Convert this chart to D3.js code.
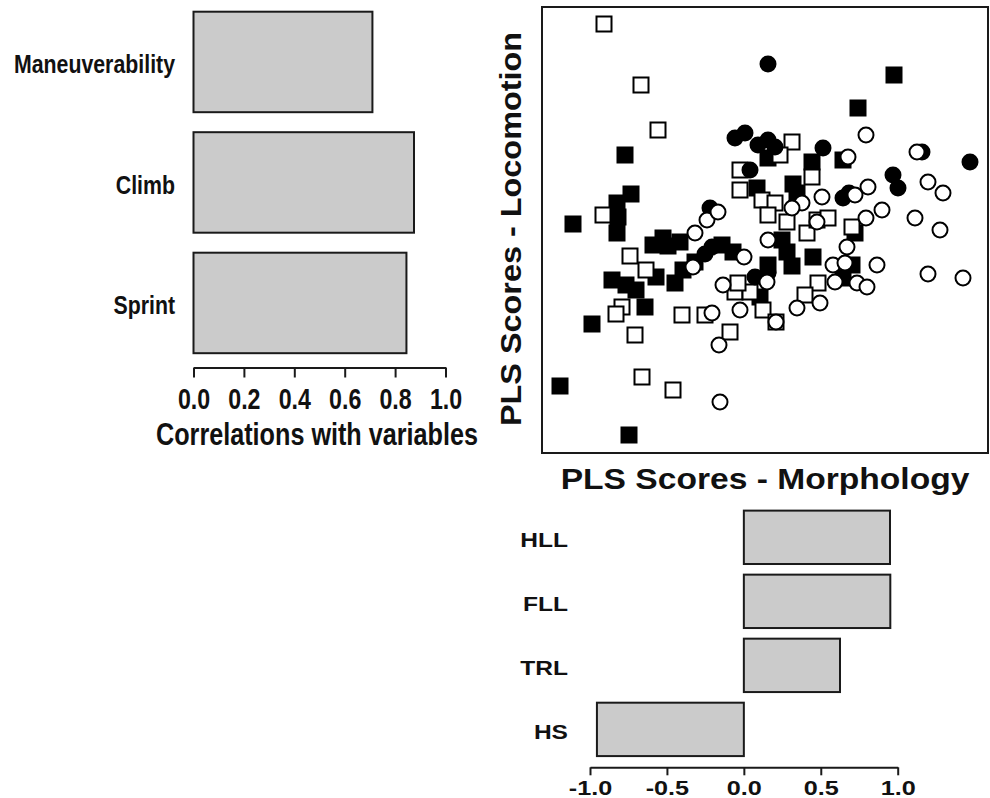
<!DOCTYPE html>
<html><head><meta charset="utf-8">
<script src="https://cdn.jsdelivr.net/npm/d3@7"></script>
<style>
body{margin:0;background:#fff}
svg{display:block}
text{font-family:"Liberation Sans",Arial,Helvetica,sans-serif;font-weight:bold;fill:#111}
</style>
</head><body>
<svg id="c" width="990" height="798"></svg>
<script>
// ---- data ----
const locoVars = ["Maneuverability", "Climb", "Sprint"];
const locoCorr = [0.71, 0.875, 0.845];
const locoTicks = [0, 0.2, 0.4, 0.6, 0.8, 1.0];
const locoAxisTitle = "Correlations with variables";

const morphVars = ["HLL", "FLL", "TRL", "HS"];
const morphCorr = [0.95, 0.952, 0.625, -0.955];
const morphTicks = [-1, -0.5, 0, 0.5, 1];

const scatterXTitle = "PLS Scores - Morphology";
const scatterYTitle = "PLS Scores - Locomotion";

const filledSquares = [
  [2.58,3.12],[1.86,2.46],[-2.80,1.52],[-2.68,0.74],[-2.96,0.56],[-2.94,0.28],[-2.96,-0.04],
  [-3.84,0.14],[-2.24,-0.28],[-2.04,-0.14],[-1.94,-0.30],[-1.70,-0.22],[-3.06,-0.98],[-2.78,-1.08],
  [-2.58,-1.18],[-2.18,-0.92],[-1.80,-1.04],[-1.64,-0.78],[-2.40,-1.52],[-3.46,-1.86],[-4.10,-3.10],
  [-2.72,-4.08],[1.56,1.42],[0.94,1.38],[0.56,0.94],[0.64,0.76],[0.06,1.46],[-0.86,-0.28],
  [-0.64,-0.42],[0.44,-0.42],[0.54,-0.70],[0.96,-0.52],[1.74,-0.68],[1.56,-0.94],[-0.10,-1.32],
  [0.34,-0.18],[0.06,-0.68],[-1.40,-0.62],[1.80,-0.04],[-0.16,0.86]
];
const openSquares = [
  [-3.22,4.14],[-2.48,2.92],[-2.14,2.02],[-3.24,0.32],[-2.70,-0.50],[-2.38,-0.78],[-2.86,-1.52],
  [-2.98,-1.66],[-2.60,-2.08],[-2.46,-2.92],[-1.84,-3.18],[-1.66,-1.68],[-1.20,-1.68],[-0.70,-2.02],
  [0.54,1.78],[0.30,1.52],[-0.50,1.22],[-0.50,0.82],[-0.06,0.62],[0.20,0.56],[0.06,0.32],
  [0.44,0.18],[0.94,1.08],[0.84,-0.04],[1.04,0.22],[1.26,0.26],[1.74,0.08],[1.06,-1.04],
  [0.80,-1.28],[-0.60,-1.22],[-0.30,-1.22],[-0.04,-1.58],[0.22,-1.82],[-0.54,-1.04]
];
const filledCircles = [
  [0.06,3.34],[-0.60,1.86],[-0.40,1.96],[-0.14,1.72],[0.06,1.82],[0.20,1.68],[-0.30,1.22],
  [1.16,1.66],[3.14,1.58],[4.10,1.38],[2.56,1.12],[2.66,0.86],[1.56,0.66],[1.68,0.76],
  [-1.10,0.46],[-1.06,-0.32],[-1.20,-0.46],[-0.20,-0.92],[0.06,-0.84]
];
const openCircles = [
  [2.02,1.92],[1.66,1.48],[3.04,1.58],[3.26,0.98],[3.56,0.76],[2.06,0.88],[1.80,0.72],
  [2.34,0.42],[2.02,0.26],[3.00,0.26],[3.50,0.02],[1.14,0.68],[0.74,0.56],[0.54,0.46],
  [1.04,0.18],[1.64,-0.32],[0.06,-0.18],[-0.42,-0.52],[1.36,-0.68],[1.60,-0.64],[2.24,-0.68],
  [1.40,-1.02],[1.84,-1.04],[2.04,-1.12],[3.26,-0.86],[3.96,-0.94],[0.04,-1.02],[1.10,-1.44],
  [0.64,-1.54],[-0.50,-1.58],[0.22,-1.82],[-1.06,-1.64],[-0.92,-2.28],[-0.90,-3.42],
  [-1.16,0.22],[-0.94,0.38],[-1.40,-0.04],[-1.44,-0.72],[-0.84,-1.08]
];

// ---- drawing ----
const svg = d3.select("#c");
const INK = "#1a1a1a", BAR = "#cbcbcb";
const fmt = d => d.toFixed(1);

// ===== Left bar chart (locomotion correlations) =====
const xL = d3.scaleLinear().domain([0, 1]).range([193.5, 445.5]);
const yL = d3.scaleBand().domain(locoVars).range([1.7, 363.2]).paddingInner(0.166).paddingOuter(0.083);
const gL = svg.append("g");
gL.selectAll("rect").data(locoVars).join("rect")
  .attr("x", xL(0)).attr("y", d => yL(d))
  .attr("width", (d, i) => xL(locoCorr[i]) - xL(0))
  .attr("height", yL.bandwidth())
  .attr("fill", BAR).attr("stroke", INK).attr("stroke-width", 2);
gL.selectAll("text.cat").data(locoVars).join("text").attr("class", "cat")
  .attr("transform", d => `translate(175,${yL(d) + yL.bandwidth() / 2}) scale(0.82,1)`)
  .attr("dy", "0.44em").attr("text-anchor", "end").style("font-size", "26px").text(d => d);
const axL = svg.append("g").attr("transform", "translate(0,367.5)")
  .call(d3.axisBottom(xL).tickValues(locoTicks).tickSize(10).tickSizeOuter(0).tickPadding(10.8).tickFormat(fmt));
axL.selectAll("path,line").attr("stroke", INK).attr("stroke-width", 2);
axL.selectAll("text").attr("fill", "#111").style("font-size", "29px")
  .attr("font-family", null).attr("transform", "scale(0.8,1)");
svg.append("text").attr("transform", "translate(317,445) scale(0.8,1)")
  .attr("text-anchor", "middle").style("font-size", "31.5px").text(locoAxisTitle);

// ===== Scatter plot =====
const xS = d3.scaleLinear().domain([-4.46, 4.46]).range([542, 988]);
const yS = d3.scaleLinear().domain([-4.44, 4.48]).range([453, 7]);
const half = 7.5;
const gS = svg.append("g");
gS.selectAll("rect.fs").data(filledSquares).join("rect").attr("class", "fs")
  .attr("x", d => xS(d[0]) - half).attr("y", d => yS(d[1]) - half)
  .attr("width", 2 * half).attr("height", 2 * half)
  .attr("fill", "#000").attr("stroke", "#000").attr("stroke-width", 2);
gS.selectAll("rect.os").data(openSquares).join("rect").attr("class", "os")
  .attr("x", d => xS(d[0]) - half).attr("y", d => yS(d[1]) - half)
  .attr("width", 2 * half).attr("height", 2 * half)
  .attr("fill", "#fff").attr("stroke", "#000").attr("stroke-width", 2);
gS.selectAll("circle.fc").data(filledCircles).join("circle").attr("class", "fc")
  .attr("cx", d => xS(d[0])).attr("cy", d => yS(d[1])).attr("r", half)
  .attr("fill", "#000").attr("stroke", "#000").attr("stroke-width", 2);
gS.selectAll("circle.oc").data(openCircles).join("circle").attr("class", "oc")
  .attr("cx", d => xS(d[0])).attr("cy", d => yS(d[1])).attr("r", half)
  .attr("fill", "#fff").attr("stroke", "#000").attr("stroke-width", 2);
svg.append("rect").attr("x", xS.range()[0]).attr("y", yS.range()[1])
  .attr("width", xS.range()[1] - xS.range()[0]).attr("height", yS.range()[0] - yS.range()[1])
  .attr("fill", "none").attr("stroke", INK).attr("stroke-width", 2);
svg.append("text").attr("transform", `translate(${(xS.range()[0] + xS.range()[1]) / 2},488.5) scale(1.12,1)`)
  .attr("text-anchor", "middle").style("font-size", "30px").text(scatterXTitle);
svg.append("text").attr("transform", "translate(521,229) rotate(-90) scale(1.08,1)")
  .attr("text-anchor", "middle").style("font-size", "30px").text(scatterYTitle);

// ===== Bottom bar chart (morphology correlations) =====
const xB = d3.scaleLinear().domain([-1, 1]).range([590, 897.7]);
const yB = d3.scaleBand().domain(morphVars).range([505.3, 761.4]).paddingInner(0.166).paddingOuter(0.083);
const gB = svg.append("g");
gB.selectAll("rect").data(morphVars).join("rect")
  .attr("x", (d, i) => xB(Math.min(0, morphCorr[i])))
  .attr("y", d => yB(d))
  .attr("width", (d, i) => Math.abs(xB(morphCorr[i]) - xB(0)))
  .attr("height", yB.bandwidth())
  .attr("fill", BAR).attr("stroke", INK).attr("stroke-width", 2);
gB.selectAll("text.cat").data(morphVars).join("text").attr("class", "cat")
  .attr("transform", d => `translate(568,${yB(d) + yB.bandwidth() / 2}) scale(1.17,1)`)
  .attr("dy", "0.45em").attr("text-anchor", "end").style("font-size", "21px").text(d => d);
const axB = svg.append("g").attr("transform", "translate(0,767.3)")
  .call(d3.axisBottom(xB).tickValues(morphTicks).tickSize(8).tickSizeOuter(0).tickPadding(4.7).tickFormat(fmt));
axB.selectAll("path,line").attr("stroke", INK).attr("stroke-width", 2);
axB.selectAll("text").attr("fill", "#111").style("font-size", "21px")
  .attr("font-family", null).attr("transform", "scale(1.2,1)");
</script>
</body></html>
